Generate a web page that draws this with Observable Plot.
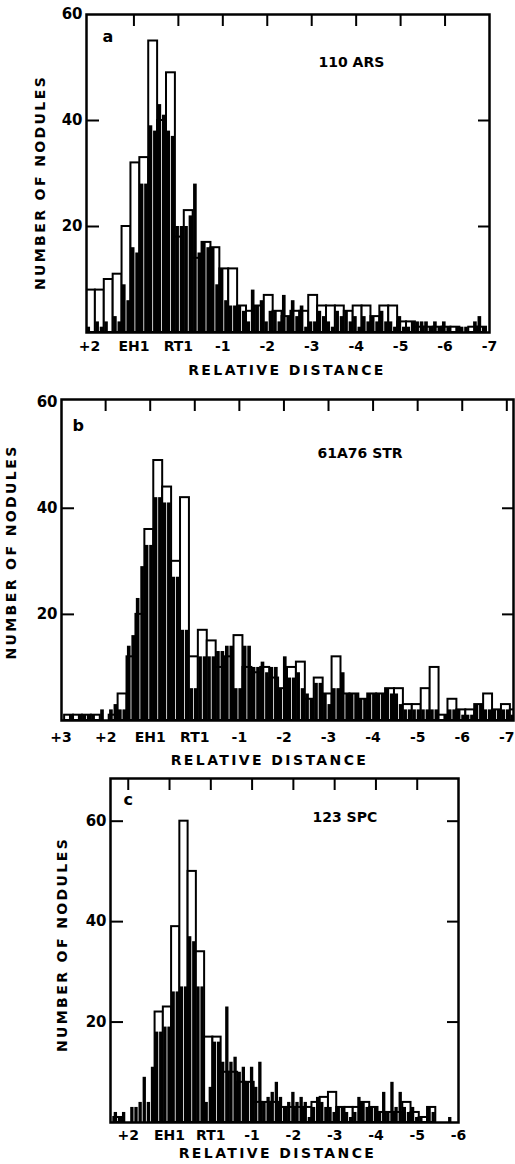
<!DOCTYPE html>
<html><head><meta charset="utf-8">
<script src="https://cdn.jsdelivr.net/npm/d3@7"></script>
<script src="https://cdn.jsdelivr.net/npm/@observablehq/plot@0.6"></script>
<style>
body{margin:0;background:#fff;}
#wrap{position:relative;width:515px;height:1164px;overflow:hidden;background:#fff;}
#wrap svg{position:absolute;left:0;}
</style></head><body><div id="wrap"></div>
<script>
// ---- data ----
const OPEN_WIDTH = 0.2;   // relative-distance units per open bar
const FILLED_WIDTH = 0.1; // per filled bar

// Panel a : 110 ARS
const aName = "110 ARS";
const aOpenStart = 2.067;
const aOpen = [8,8,10,11,20,32,33,55,40,49,18,23,14,17,16,12,12,5,4,5,7,4,3,4,4,7,5,5,5,4,5,5,3,5,5,2,2,1,1,1,1,1,0,1,1];
const aFilled = [1,0,2,1,2,0,3,2,9,6,16,15,28,28,39,38,43,41,38,37,20,20,20,22,28,15,17,16,16,9,12,6,5,5,
  5,4,2,8,5,6,2,4,4,2,7,3,6,3,5,1,2,2,4,3,2,1,4,3,4,2,3,1,3,2,3,2,4,2,2,1,3,1,1,2,2,2,2,1,2,1,2,1,0,1,1,1,0,2,3,1];
const aTicks = [2,1,0,-1,-2,-3,-4,-5,-6,-7];
const aTickText = ["+2","EH1","RT1","-1","-2","-3","-4","-5","-6","-7"];
const aTopTicks = [1,0,-1,-2,-3,-4,-5,-6];
const aYTicks = [20,40,60];
const aSideTicks = [20,40];

// Panel b : 61A76 STR
const bName = "61A76 STR";
const bOpenStart = 2.92;
const bOpen = [1,1,1,1,0,1,5,12,20,36,49,44,30,42,12,17,15,10,12,16,10,9,10,8,6,10,11,4,8,5,12,5,5,4,5,5,6,6,3,3,6,10,1,4,2,2,3,5,2,3,2];
const bFilled = [0,1,0,1,1,1,1,0,2,0, 2,3,2,2,14,16,23,29,33,33, 42,42,41,41,27,27,17,17,6,6,
  12,12,12,12,13,13,14,14,6,6, 14,14,10,10,11,9,10,10,6,12, 8,8,9,6,5,4,7,7,5,3,
  6,6,9,5,5,5,4,4,5,5, 5,5,6,5,5,3,2,2,2,2, 2,2,2,2,0,1,2,2,2,1, 1,1,3,3,2,2,2,2,2,2, 1];
const bTicks = [3,2,1,0,-1,-2,-3,-4,-5,-6,-7];
const bTickText = ["+3","+2","EH1","RT1","-1","-2","-3","-4","-5","-6","-7"];
const bTopTicks = [2,1,0,-1,-2,-3,-4,-5,-6,-7];
const bYTicks = [20,40,60];
const bSideTicks = [20,40];

// Panel c : 123 SPC
const cName = "123 SPC";
const cOpenStart = 2.35;
const cOpen = [1,0,0,0,0,22,23,39,60,50,34,17,17,10,10,8,8,4,4,4,3,3,3,3,4,5,6,3,3,3,4,3,2,2,2,4,2,1,3,0,0,0];
const cFilled = [2,1,2,0,3,3,4,9,4,11, 18,18,19,19,26,26,27,27,37,36, 27,27,4,7,16,16,12,23,12,13,
  10,11,8,11,7,12,4,5,6,8, 5,3,4,6,4,5,4,1,3,5, 4,3,3,2,3,3,2,1,2,5, 4,3,3,3,2,6,2,8,3,6,
  3,2,3,1,1,0,3,2,0,0, 0,1,0,0];
const cTicks = [2,1,0,-1,-2,-3,-4,-5,-6];
const cTickText = ["+2","EH1","RT1","-1","-2","-3","-4","-5","-6"];
const cTopTicks = [2,1,0,-1,-2,-3,-4,-5];
const cYTicks = [20,40,60];
const cSideTicks = [20,40,60];

const xTitle = "RELATIVE DISTANCE";
const yTitle = "NUMBER OF NODULES";
const FONT = "'DejaVu Sans', sans-serif";

function bins(counts, start, width) {
  return counts.map((n, i) => ({x1: start - i * width, x2: start - (i + 1) * width, n}));
}

function panel(cfg) {
  const W = 515;
  const innerW = W - cfg.ml - cfg.mr;
  const innerH = cfg.height - cfg.mt - cfg.mb;
  const svg = Plot.plot({
    width: W, height: cfg.height,
    marginTop: cfg.mt, marginBottom: cfg.mb, marginLeft: cfg.ml, marginRight: cfg.mr,
    style: {fontFamily: FONT, fontWeight: "bold", fontSize: "14px", color: "black", background: "white", overflow: "visible"},
    x: {domain: cfg.xDomain, label: null},
    y: {domain: [0, cfg.yMax], label: null},
    marks: [
      Plot.rect(bins(cfg.open, cfg.start, OPEN_WIDTH), {x1: "x1", x2: "x2", y1: 0, y2: "n", fill: "white", stroke: "black", strokeWidth: 2, clip: true}),
      Plot.rect(bins(cfg.filled, cfg.start, FILLED_WIDTH), {x1: "x1", x2: "x2", y1: 0, y2: "n", fill: "black", insetLeft: 0.4, insetRight: 0.4, clip: true}),
      Plot.ruleX(cfg.topTicks, {x: d => d, stroke: "black", strokeWidth: 2, insetBottom: innerH - 12}),
      Plot.ruleY(cfg.sideTicks, {y: d => d, stroke: "black", strokeWidth: 2, insetRight: innerW - 13}),
      Plot.ruleY(cfg.sideTicks, {y: d => d, stroke: "black", strokeWidth: 2, insetLeft: innerW - 11}),
      Plot.frame({stroke: "black", strokeWidth: 2.5}),
      Plot.axisX(cfg.ticks, {anchor: "bottom", tickSize: 0, tickPadding: cfg.xPad, label: null,
        tickFormat: d => cfg.tickText[cfg.ticks.indexOf(d)], fontSize: 14, fontWeight: "bold"}),
      Plot.axisY(cfg.yTicks, {anchor: "left", tickSize: 0, tickPadding: 4, label: null,
        tickFormat: d => String(d), fontSize: 15, fontWeight: "bold"}),
      Plot.text([xTitle], {text: d => d, frameAnchor: "bottom", lineAnchor: "top", textAnchor: "middle", dy: cfg.xtDy, dx: cfg.xtDx, fontSize: 14, fontWeight: "bold"}),
      Plot.text([yTitle], {text: d => d, frameAnchor: "left", textAnchor: "middle", lineAnchor: "middle", rotate: -90, dx: cfg.ytDx, dy: cfg.ytDy, fontSize: 14, fontWeight: "bold"}),
      Plot.text([cfg.letter], {text: d => d, frameAnchor: "top-left", lineAnchor: "top", dx: cfg.letterDx, dy: cfg.letterDy, fontSize: 16, fontWeight: "bold"}),
      Plot.text([cfg.name], {text: d => d, frameAnchor: "top-left", lineAnchor: "top", textAnchor: "start", dx: cfg.nameDx, dy: cfg.nameDy, fontSize: 14, fontWeight: "bold"})
    ]
  });
  svg.style.top = cfg.top + "px";
  d3.select(svg).selectAll("text")
    .filter(function() { return this.textContent === xTitle || this.textContent === yTitle; })
    .attr("letter-spacing", "2.4px");
  document.getElementById("wrap").appendChild(svg);
}

panel({top: 0, height: 385, mt: 14, mb: 53, ml: 86, mr: 26, xDomain: [aOpenStart, -7], yMax: 60,
  open: aOpen, filled: aFilled, start: aOpenStart, ticks: aTicks, tickText: aTickText, topTicks: aTopTicks,
  yTicks: aYTicks, sideTicks: aSideTicks, xPad: 9, xtDy: 33, xtDx: -1, ytDx: -46, ytDy: 9,
  letter: "a", letterDx: 16, letterDy: 16, name: aName, nameDx: 232, nameDy: 43});

panel({top: 385, height: 385, mt: 14, mb: 50, ml: 61, mr: 2, xDomain: [2.99, -7.15], yMax: 60.5,
  open: bOpen, filled: bFilled, start: bOpenStart, ticks: bTicks, tickText: bTickText, topTicks: bTopTicks,
  yTicks: bYTicks, sideTicks: bSideTicks, xPad: 12, xtDy: 35, xtDx: -18, ytDx: -50, ytDy: -8,
  letter: "b", letterDx: 11, letterDy: 20, name: bName, nameDx: 256, nameDy: 49});

panel({top: 770, height: 394, mt: 8, mb: 42, ml: 110, mr: 57, xDomain: [2.43, -6], yMax: 68.5,
  open: cOpen, filled: cFilled, start: cOpenStart, ticks: cTicks, tickText: cTickText, topTicks: cTopTicks,
  yTicks: cYTicks, sideTicks: cSideTicks, xPad: 8, xtDy: 26, xtDx: -7, ytDx: -48, ytDy: -6,
  letter: "c", letterDx: 13, letterDy: 15, name: cName, nameDx: 202, nameDy: 34});
</script>
</body></html>
